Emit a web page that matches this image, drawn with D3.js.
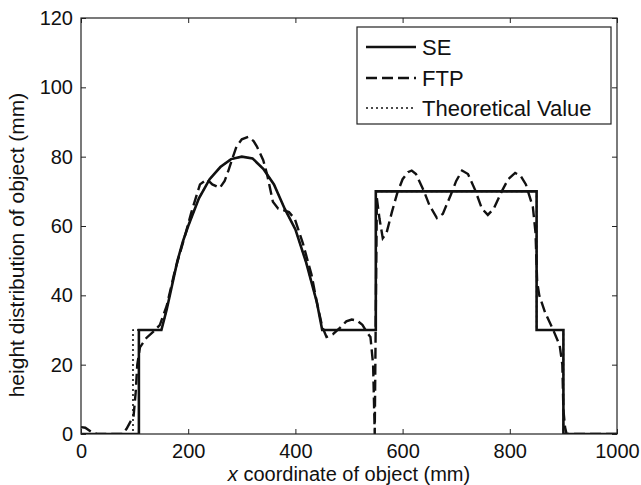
<!DOCTYPE html>
<html>
<head>
<meta charset="utf-8">
<script src="https://cdn.jsdelivr.net/npm/d3@7"></script>
<style>
  body { margin: 0; background: #fff; }
  svg { font-family: "Liberation Sans", Arial, Helvetica, sans-serif; }
</style>
</head>
<body>
<div id="chart"></div>
<script>
// values (x in mm, height in mm)
var xTicks = [0, 200, 400, 600, 800, 1000];
var yTicks = [0, 20, 40, 60, 80, 100, 120];

var seX = [0, 108, 108, 150, 160, 170, 180, 190, 200, 220, 240, 260, 280, 300,
           320, 340, 360, 380, 400, 420, 440, 450, 550, 550, 850, 850, 900, 900, 1000];
var seY = [0, 0, 30, 30, 36, 43, 50, 55.5, 60, 68, 73.5, 77, 79.3, 80,
           79.5, 76.5, 72, 65, 59, 49.5, 38, 30, 30, 70, 70, 30, 30, 0, 0];

var ftpX = [0, 8, 20, 30, 78, 85, 92, 98, 102, 105, 110, 122, 135, 147, 160, 175,
            196, 206, 222, 235, 245, 259, 268, 275, 290, 300, 312, 322, 328, 340,
            347, 358, 368, 377, 388, 399, 414, 430, 440, 450, 458, 470, 483, 495,
            505, 515, 525, 535, 540, 545, 548, 550, 552, 557, 563, 570, 580, 590,
            600, 610, 617, 625, 640, 650, 664, 675, 690, 700, 711, 722, 735, 748,
            759, 770, 785, 797, 810, 820, 830, 843, 848, 851, 855, 866, 881, 893,
            898, 900, 903, 906, 1000];
var ftpY = [2, 1.8, 0.5, 0, 0, 1.5, 3.5, 5, 12, 20, 25, 27.7, 29.5, 31.4, 37, 47,
            58.3, 64, 72, 73.5, 72, 71, 73, 76, 82.9, 85, 85.7, 84.5, 83, 79,
            75, 67, 65, 64.6, 64, 62, 55, 46, 38, 31, 28, 28.8, 30.6, 32.5,
            33, 32.7, 31.5, 29, 28, 20, 0, 35, 68, 62, 56.5, 58, 64, 69.5,
            73.5, 75.5, 76, 75, 70, 66, 62.3, 63.5, 69, 73, 76, 75, 70.5, 65,
            63.2, 65, 70, 73.5, 75.3, 74.5, 72, 65.5, 58, 44, 40, 35, 30, 25.6,
            20, 7, 2, 0, 0];

var thX = [0, 97, 97, 150, 160, 170, 180, 190, 200, 220, 240, 260, 280, 300,
           320, 340, 360, 380, 400, 420, 440, 450, 550, 550, 850, 850, 900, 900, 1000];
var thY = [0, 0, 30, 30, 36, 43, 50, 55.5, 60, 68, 73.5, 77, 79.3, 80,
           79.5, 76.5, 72, 65, 59, 49.5, 38, 30, 30, 70, 70, 30, 30, 0, 0];

var seriesNames = ["SE", "FTP", "Theoretical Value"];

var outW = 641, outH = 485;
var margin = {top: 18, right: 24, bottom: 51, left: 81};
var width = outW - margin.left - margin.right,
    height = outH - margin.top - margin.bottom;

var svg = d3.select("#chart").append("svg")
    .attr("width", outW)
    .attr("height", outH);

var g = svg.append("g")
    .attr("transform", "translate(" + margin.left + "," + margin.top + ")");

var xScale = d3.scaleLinear().domain([0, 1000]).range([0, width]);
var yScale = d3.scaleLinear().domain([0, 120]).range([height, 0]);

function pts(xs, ys) {
  return xs.map(function(x, i) { return [x, ys[i]]; });
}

var line = d3.line()
    .x(function(d) { return xScale(d[0]); })
    .y(function(d) { return yScale(d[1]); });

// clip so the curves stay inside the box
g.append("clipPath").attr("id", "clip")
  .append("rect").attr("x", 0).attr("y", 0).attr("width", width).attr("height", height);

var plot = g.append("g").attr("clip-path", "url(#clip)");

var dashes = [null, "11,5", "2,3"];
var widths = [2.6, 2.4, 1.6];

plot.append("path")
    .datum(pts(thX, thY))
    .attr("d", line)
    .attr("fill", "none")
    .attr("stroke", "#111")
    .attr("stroke-width", widths[2])
    .attr("stroke-dasharray", dashes[2]);

plot.append("path")
    .datum(pts(ftpX, ftpY))
    .attr("d", line)
    .attr("fill", "none")
    .attr("stroke", "#111")
    .attr("stroke-width", widths[1])
    .attr("stroke-dasharray", dashes[1]);

plot.append("path")
    .datum(pts(seX, seY))
    .attr("d", line)
    .attr("fill", "none")
    .attr("stroke", "#111")
    .attr("stroke-width", widths[0]);

// axes, ticks pointing inwards on all four sides
var fmt = d3.format("d");

g.append("g")
    .attr("transform", "translate(0," + height + ")")
    .call(d3.axisBottom(xScale).tickValues(xTicks).tickSize(-5).tickPadding(10).tickFormat(fmt));
g.append("g")
    .call(d3.axisLeft(yScale).tickValues(yTicks).tickSize(-5).tickPadding(8).tickFormat(fmt));
g.append("g")
    .call(d3.axisTop(xScale).tickValues(xTicks).tickSize(-5).tickFormat(""));
g.append("g")
    .attr("transform", "translate(" + width + ",0)")
    .call(d3.axisRight(yScale).tickValues(yTicks).tickSize(-5).tickFormat(""));

g.selectAll(".domain").remove();
g.selectAll(".tick line").attr("stroke", "#222");
g.selectAll(".tick text")
    .attr("fill", "#111")
    .style("font-size", "20px")
    .style("font-family", "'Liberation Sans', Arial, sans-serif");

g.append("rect")
    .attr("width", width)
    .attr("height", height)
    .attr("fill", "none")
    .attr("stroke", "#222")
    .attr("stroke-width", 1.2);

// axis labels
var xl = svg.append("text")
    .attr("x", margin.left + width / 2)
    .attr("y", 480.5)
    .attr("text-anchor", "middle")
    .attr("fill", "#111")
    .style("font-size", "20px");
xl.append("tspan").style("font-style", "italic").text("x");
xl.append("tspan").text(" coordinate of object (mm)");

svg.append("text")
    .attr("transform", "translate(24,245) rotate(-90)")
    .attr("text-anchor", "middle")
    .attr("fill", "#111")
    .style("font-size", "21px")
    .text("height distribution of object (mm)");

// legend
var lg = svg.append("g").attr("transform", "translate(357,27)");
lg.append("rect")
    .attr("width", 254)
    .attr("height", 97)
    .attr("fill", "#fff")
    .attr("stroke", "#222")
    .attr("stroke-width", 1.2);

var rowY = [20, 51, 81];

seriesNames.forEach(function(name, i) {
  lg.append("line")
      .attr("x1", 9).attr("x2", 59)
      .attr("y1", rowY[i]).attr("y2", rowY[i])
      .attr("stroke", "#111")
      .attr("stroke-width", widths[i])
      .attr("stroke-dasharray", dashes[i]);
  lg.append("text")
      .attr("x", 65)
      .attr("y", rowY[i])
      .attr("dy", "0.36em")
      .attr("fill", "#111")
      .style("font-size", "22px")
      .text(name);
});
</script>
</body>
</html>
